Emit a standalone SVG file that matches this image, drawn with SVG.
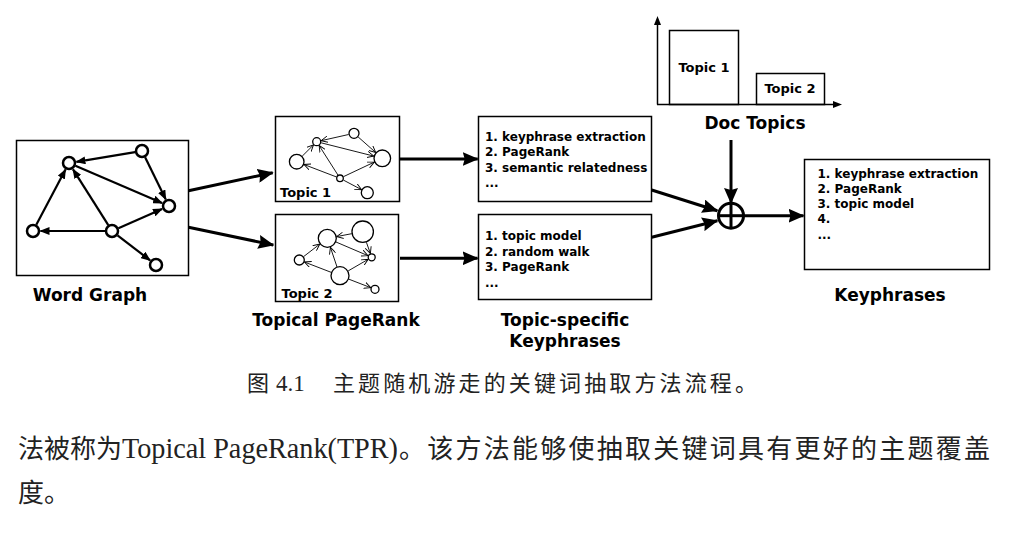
<svg xmlns="http://www.w3.org/2000/svg" width="1011" height="542" viewBox="0 0 1011 542">
<style>
.box{fill:#fff;stroke:#000;stroke-width:1.5}
.wg{fill:#fff;stroke:#000;stroke-width:2.5}
.we{stroke:#000;stroke-width:2.2;fill:none}
.tn{fill:#fff;stroke:#000;stroke-width:1.3}
.te{stroke:#000;stroke-width:0.9;fill:none}
.fl{stroke:#000;stroke-width:3;fill:none}
.lbl{font-family:"DejaVu Sans",sans-serif;font-weight:bold;font-size:17px;text-anchor:middle}
.item{font-family:"DejaVu Sans",sans-serif;font-weight:bold;font-size:12px}
.tl{font-family:"DejaVu Sans",sans-serif;font-weight:bold;font-size:13px}
.cap{font-family:"Liberation Serif","Noto Sans CJK SC",serif;fill:#222}
</style>
<defs>
<marker id="wa" viewBox="0 0 10 8" refX="9" refY="4" markerWidth="10" markerHeight="8" markerUnits="userSpaceOnUse" orient="auto"><path d="M0,0 L10,4 L0,8 z"/></marker>
<marker id="ta" viewBox="0 0 10 10" refX="9.5" refY="5" markerWidth="7" markerHeight="7" markerUnits="userSpaceOnUse" orient="auto"><path d="M0,0.5 L9.5,5 L0,9.5" fill="none" stroke="#000" stroke-width="1.3"/></marker>
<marker id="fa" viewBox="0 0 16 14" refX="15" refY="7" markerWidth="16" markerHeight="14" markerUnits="userSpaceOnUse" orient="auto"><path d="M0,0 L16,7 L0,14 L2,7 z"/></marker>
</defs>

<g id="word-graph">
<rect class="box" x="16.5" y="140.5" width="172" height="135"/>
<g>
<line class="we" x1="135.1" y1="152.1" x2="76.4" y2="161.8" marker-end="url(#wa)"/>
<line class="we" x1="145.1" y1="157.3" x2="165.7" y2="199.3" marker-end="url(#wa)"/>
<line class="we" x1="75.4" y1="165.8" x2="162.1" y2="203" marker-end="url(#wa)"/>
<line class="we" x1="36.3" y1="224.8" x2="65.5" y2="169.6" marker-end="url(#wa)"/>
<line class="we" x1="108.3" y1="225.1" x2="73" y2="169.3" marker-end="url(#wa)"/>
<line class="we" x1="105" y1="231" x2="40.5" y2="231" marker-end="url(#wa)"/>
<line class="we" x1="118.4" y1="228.2" x2="162.1" y2="209" marker-end="url(#wa)"/>
<line class="we" x1="117.5" y1="235.3" x2="150.1" y2="260.4" marker-end="url(#wa)"/>
</g>
<circle class="wg" cx="69" cy="163" r="6"/>
<circle class="wg" cx="142" cy="151" r="6"/>
<circle class="wg" cx="169" cy="206" r="6"/>
<circle class="wg" cx="33" cy="231" r="6"/>
<circle class="wg" cx="112" cy="231" r="6"/>
<circle class="wg" cx="156" cy="265" r="6"/>
<text class="lbl" x="90" y="301">Word Graph</text>
</g>

<g id="topic1-graph">
<rect class="box" x="275.5" y="116.5" width="124" height="85"/>
<line class="te" x1="348.6" y1="134.5" x2="321.1" y2="140.7" marker-end="url(#ta)"/>
<line class="te" x1="358.1" y1="136.9" x2="375.7" y2="152.5" marker-end="url(#ta)"/>
<line class="te" x1="321.1" y1="142.8" x2="373.8" y2="156.1" marker-end="url(#ta)"/>
<line class="te" x1="302.2" y1="156.2" x2="313.5" y2="144.9" marker-end="url(#ta)"/>
<line class="te" x1="338.1" y1="175.3" x2="319.1" y2="145.5" marker-end="url(#ta)"/>
<line class="te" x1="336.3" y1="176.9" x2="304" y2="164.5" marker-end="url(#ta)"/>
<line class="te" x1="343.6" y1="176.6" x2="374.3" y2="162.1" marker-end="url(#ta)"/>
<line class="te" x1="343.6" y1="180.2" x2="361.6" y2="189.7" marker-end="url(#ta)"/>
<circle class="tn" cx="316.7" cy="141.7" r="4"/>
<circle class="tn" cx="354" cy="133.3" r="5"/>
<circle class="tn" cx="382.3" cy="158.3" r="8.3"/>
<circle class="tn" cx="296.7" cy="161.7" r="7.3"/>
<circle class="tn" cx="340" cy="178.3" r="3.3"/>
<circle class="tn" cx="367.3" cy="192.7" r="6"/>
<text class="tl" x="280" y="197">Topic 1</text>
</g>

<g id="topic2-graph">
<rect class="box" x="275.5" y="214.5" width="123" height="87"/>
<line class="te" x1="351.7" y1="233.7" x2="336.6" y2="236.6" marker-end="url(#ta)"/>
<line class="te" x1="366.4" y1="242.3" x2="370.4" y2="253.5" marker-end="url(#ta)"/>
<line class="te" x1="336" y1="242" x2="368" y2="255.7" marker-end="url(#ta)"/>
<line class="te" x1="303.6" y1="256.6" x2="319.8" y2="244.1" marker-end="url(#ta)"/>
<line class="te" x1="337.1" y1="267.2" x2="330.4" y2="247.3" marker-end="url(#ta)"/>
<line class="te" x1="331.1" y1="272.3" x2="304.4" y2="262" marker-end="url(#ta)"/>
<line class="te" x1="348.2" y1="270.9" x2="368.2" y2="259.3" marker-end="url(#ta)"/>
<line class="te" x1="348.4" y1="279" x2="370.8" y2="287.7" marker-end="url(#ta)"/>
<circle class="tn" cx="327.3" cy="238.3" r="9"/>
<circle class="tn" cx="362.7" cy="231.7" r="10.7"/>
<circle class="tn" cx="371.7" cy="257.3" r="3.5"/>
<circle class="tn" cx="299.3" cy="260" r="5"/>
<circle class="tn" cx="340" cy="275.7" r="9"/>
<circle class="tn" cx="375" cy="289.3" r="4"/>
<text class="tl" x="281.5" y="298">Topic 2</text>
</g>
<text class="lbl" x="336" y="326">Topical PageRank</text>

<g id="keyphrases-topic1">
<rect class="box" x="478.5" y="116.5" width="173" height="85"/>
<text class="item" x="485" y="141">1. keyphrase extraction</text>
<text class="item" x="485" y="156">2. PageRank</text>
<text class="item" x="485" y="171.5">3. semantic relatedness</text>
<text class="item" x="485" y="187">...</text>
</g>
<g id="keyphrases-topic2">
<rect class="box" x="478.5" y="214.5" width="173" height="85"/>
<text class="item" x="485" y="240">1. topic model</text>
<text class="item" x="485" y="255.5">2. random walk</text>
<text class="item" x="485" y="271">3. PageRank</text>
<text class="item" x="485" y="287">...</text>
</g>
<text class="lbl" x="565" y="326">Topic-specific</text>
<text class="lbl" x="565" y="347">Keyphrases</text>

<g id="doc-topics">
<rect class="box" x="669.5" y="30.5" width="69" height="74"/>
<rect class="box" x="756.5" y="73.5" width="68" height="31"/>
<line x1="657.5" y1="104.5" x2="657.5" y2="22" stroke="#000" stroke-width="1.5"/>
<path d="M657.5,16 L654,25 L661,25 z"/>
<line x1="657" y1="104.5" x2="836" y2="104.5" stroke="#000" stroke-width="1.5"/>
<path d="M842,104.5 L833,101 L833,108 z"/>
<text class="tl" x="704" y="72" text-anchor="middle">Topic 1</text>
<text class="tl" x="790" y="93" text-anchor="middle">Topic 2</text>
<text class="lbl" x="755" y="129">Doc Topics</text>
</g>

<g id="combine">
<circle cx="731" cy="215.7" r="12.5" fill="#fff" stroke="#000" stroke-width="3"/>
<line x1="718.5" y1="215.7" x2="743.5" y2="215.7" stroke="#000" stroke-width="3"/>
<line x1="731" y1="203.2" x2="731" y2="228.2" stroke="#000" stroke-width="3"/>
</g>

<g id="keyphrases-final">
<rect class="box" x="804.5" y="159.5" width="185" height="110"/>
<text class="item" x="817.5" y="177.5">1. keyphrase extraction</text>
<text class="item" x="817.5" y="192.5">2. PageRank</text>
<text class="item" x="817.5" y="207.5">3. topic model</text>
<text class="item" x="817.5" y="223">4.</text>
<text class="item" x="817.5" y="239">...</text>
<text class="lbl" x="890" y="301">Keyphrases</text>
</g>

<g id="connectors">
<line class="fl" x1="188.5" y1="190.7" x2="272.7" y2="172.7" marker-end="url(#fa)"/>
<line class="fl" x1="188.5" y1="227.3" x2="273.3" y2="245" marker-end="url(#fa)"/>
<line class="fl" x1="400" y1="159" x2="477.7" y2="159" marker-end="url(#fa)"/>
<line class="fl" x1="400" y1="258.3" x2="477.5" y2="258.3" marker-end="url(#fa)"/>
<line class="fl" x1="651.7" y1="190" x2="717.3" y2="210.7" marker-end="url(#fa)"/>
<line class="fl" x1="651.7" y1="237.3" x2="717.3" y2="220.7" marker-end="url(#fa)"/>
<line class="fl" x1="731" y1="140" x2="731" y2="203" marker-end="url(#fa)"/>
<line class="fl" x1="743.5" y1="215.7" x2="803.5" y2="215.7" marker-end="url(#fa)"/>
</g>

<g id="caption">
<text class="cap" x="247" y="391" font-size="22">图</text>
<text class="cap" x="276" y="391" font-size="23">4.1</text>
<text class="cap" x="333" y="391" font-size="22" textLength="424" lengthAdjust="spacing">主题随机游走的关键词抽取方法流程。</text>
</g>
<g id="body-text">
<text class="cap" x="18" y="458" font-size="26" fill="#000" textLength="104" lengthAdjust="spacing">法被称为</text>
<text class="cap" x="122" y="458" font-size="29" textLength="276" lengthAdjust="spacingAndGlyphs">Topical PageRank(TPR)</text>
<text class="cap" x="399" y="458" font-size="26" textLength="591" lengthAdjust="spacing">。该方法能够使抽取关键词具有更好的主题覆盖</text>
<text class="cap" x="18" y="502" font-size="26">度。</text>
</g>
</svg>
